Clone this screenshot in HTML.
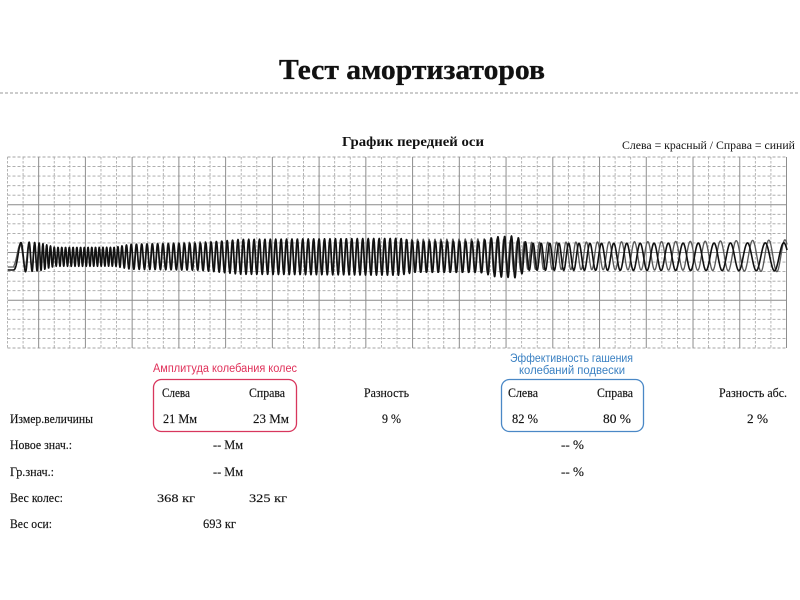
<!DOCTYPE html>
<html><head><meta charset="utf-8">
<style>
html,body{margin:0;padding:0;background:#fff;}
svg{display:block}
.s{font-family:"Liberation Serif","Noto Serif CJK SC",serif;fill:#111}
.a{font-family:"Liberation Sans","Noto Sans CJK SC",sans-serif}
</style></head><body>
<svg id="c" width="800" height="600" viewBox="0 0 800 600" xmlns="http://www.w3.org/2000/svg">
<rect x="0" y="0" width="800" height="600" fill="#fff"/>
<g id="grid"></g>
<g id="wave"></g>
<line x1="0" y1="93" x2="800" y2="93" stroke="#999" stroke-width="1" stroke-dasharray="3,2"/>

<text class="s" x="279" y="79" font-size="28" font-weight="bold" stroke="#111" stroke-width="0.3" textLength="266" lengthAdjust="spacingAndGlyphs">Тест амортизаторов</text>
<text class="s" x="342" y="146" font-size="14" font-weight="bold" textLength="142" lengthAdjust="spacingAndGlyphs">График передней оси</text>
<text class="s" x="622" y="149" font-size="11.5" textLength="173" lengthAdjust="spacingAndGlyphs">Слева = красный / Справа = синий</text>

<text class="a" x="153" y="372" font-size="11.5" fill="#e0315a" textLength="144" lengthAdjust="spacingAndGlyphs">Амплитуда колебания колес</text>
<rect x="153.5" y="379.5" width="143" height="52" rx="8" ry="8" fill="none" stroke="#d8365d" stroke-width="1.3"/>

<text class="a" x="510" y="362" font-size="11.5" fill="#3a80c2" textLength="123" lengthAdjust="spacingAndGlyphs">Эффективность гашения</text>
<text class="a" x="519" y="374" font-size="11.5" fill="#3a80c2" textLength="106" lengthAdjust="spacingAndGlyphs">колебаний подвески</text>
<rect x="501.5" y="379.5" width="142" height="52" rx="8" ry="8" fill="none" stroke="#4a88c6" stroke-width="1.3"/>

<g class="s" font-size="13" stroke="#111" stroke-width="0.15">
<text x="162" y="397" textLength="28" lengthAdjust="spacingAndGlyphs">Слева</text>
<text x="249" y="397" textLength="36" lengthAdjust="spacingAndGlyphs">Справа</text>
<text x="364" y="397" textLength="45" lengthAdjust="spacingAndGlyphs">Разность</text>
<text x="508" y="397" textLength="30" lengthAdjust="spacingAndGlyphs">Слева</text>
<text x="597" y="397" textLength="36" lengthAdjust="spacingAndGlyphs">Справа</text>
<text x="719" y="397" textLength="68" lengthAdjust="spacingAndGlyphs">Разность абс.</text>

<text x="10" y="423" textLength="83" lengthAdjust="spacingAndGlyphs">Измер.величины</text>
<text x="163" y="423" textLength="34" lengthAdjust="spacingAndGlyphs">21  Мм</text>
<text x="253" y="423" textLength="36" lengthAdjust="spacingAndGlyphs">23  Мм</text>
<text x="382" y="423" textLength="19" lengthAdjust="spacingAndGlyphs">9 %</text>
<text x="512" y="423" textLength="26" lengthAdjust="spacingAndGlyphs">82 %</text>
<text x="603" y="423" textLength="28" lengthAdjust="spacingAndGlyphs">80 %</text>
<text x="747" y="423" textLength="21" lengthAdjust="spacingAndGlyphs">2 %</text>

<text x="10" y="449" textLength="62" lengthAdjust="spacingAndGlyphs">Новое знач.:</text>
<text x="213" y="449" textLength="30" lengthAdjust="spacingAndGlyphs">-- Мм</text>
<text x="561" y="449" textLength="23" lengthAdjust="spacingAndGlyphs">-- %</text>

<text x="10" y="476" textLength="44" lengthAdjust="spacingAndGlyphs">Гр.знач.:</text>
<text x="213" y="476" textLength="30" lengthAdjust="spacingAndGlyphs">-- Мм</text>
<text x="561" y="476" textLength="23" lengthAdjust="spacingAndGlyphs">-- %</text>

<text x="10" y="502" textLength="53" lengthAdjust="spacingAndGlyphs">Вес колес:</text>
<text x="157" y="502" font-size="12" textLength="38" lengthAdjust="spacingAndGlyphs">368   кг</text>
<text x="249" y="502" font-size="12" textLength="38" lengthAdjust="spacingAndGlyphs">325   кг</text>

<text x="10" y="528" textLength="42" lengthAdjust="spacingAndGlyphs">Вес оси:</text>
<text x="203" y="528" textLength="33" lengthAdjust="spacingAndGlyphs">693 кг</text>
</g>
</svg>
<script>
(function(){
var NS="http://www.w3.org/2000/svg";
function el(tag,attrs,parent){var e=document.createElementNS(NS,tag);for(var k in attrs)e.setAttribute(k,attrs[k]);parent.appendChild(e);return e;}
var grid=document.getElementById('grid');
var X0=7.5,DX=15.58,Y0=157,DY=9.55;
var k,j;
for(j=0;j<=20;j++){
  var y=Y0+j*DY;var solid=(j==5||j==10||j==15);
  var a={x1:X0,y1:y,x2:X0+50*DX,y2:y,stroke:solid?'#8a8a8a':'#a4a4a4','stroke-width':solid?1.1:0.9};
  if(!solid)a['stroke-dasharray']='3,2';
  el('line',a,grid);
}
for(k=0;k<=50;k++){
  var x=X0+k*DX;var s2=(k%3==2);
  var b={x1:x,y1:Y0,x2:x,y2:Y0+20*DY,stroke:s2?'#8e8e8e':'#a8a8a8','stroke-width':s2?1:0.85};
  if(!s2)b['stroke-dasharray']='2.5,1.5';
  el('line',b,grid);
}
function lerp(t,x){if(x<=t[0][0])return t[0][1];for(var i=1;i<t.length;i++){if(x<=t[i][0]){var p=t[i-1],q=t[i];return p[1]+(q[1]-p[1])*(x-p[0])/(q[0]-p[0]);}}return t[t.length-1][1];}
var P=[[14,18],[22,10],[30,6],[40,3.8],[115,3.7],[135,5.3],[400,5.5],[480,6.4],[520,7],[560,9.5],[620,13],[700,15.5],[787,19]];
var AB=[[14,13],[25,15],[40,14],[55,9.5],[115,9.5],[130,12.5],[200,13.5],[240,17.5],[400,18.5],[415,15.5],[480,15.5],[495,20],[515,21],[528,13.5],[600,13.5],[787,14]];
var AG=[[14,11],[30,12],[55,8.5],[115,8.5],[130,11.5],[240,15.5],[400,16.5],[500,17],[528,13.5],[700,14.5],[787,16]];
var D=[[14,0.4],[480,0.5],[540,1.3],[620,2.5],[700,3.4],[760,4.6],[787,6.0]];
var phi=0,dx=0.25;
var db=['M8,270 L14,270'],dg=['M8,267 L14,267'];
for(var xx=14;xx<=787;xx+=dx){
  phi+=2*Math.PI*dx/lerp(P,xx);
  var yb=256.8+lerp(AB,xx)*Math.cos(phi);
  var yg=255.8+lerp(AG,xx)*Math.cos(phi+lerp(D,xx));
  db.push('L'+xx.toFixed(2)+','+yb.toFixed(2));
  dg.push('L'+xx.toFixed(2)+','+yg.toFixed(2));
}
var w=document.getElementById('wave');
el('path',{d:dg.join(' '),fill:'none',stroke:'#5a5a5a','stroke-width':1.35,'stroke-linejoin':'round'},w);
el('path',{d:db.join(' '),fill:'none',stroke:'#111','stroke-width':1.6,'stroke-linejoin':'round'},w);
})();
</script>
</body></html>
